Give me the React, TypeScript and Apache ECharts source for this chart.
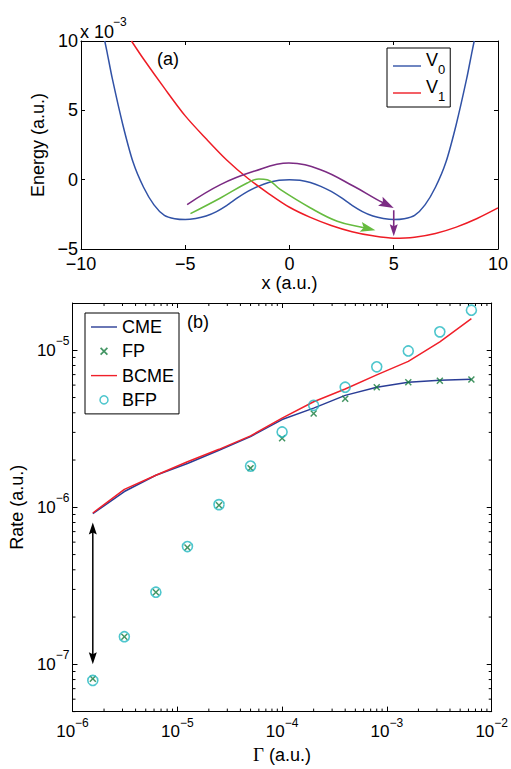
import React, { useEffect, useRef } from 'react';
import * as echarts from 'echarts';

const FONT = '"Liberation Sans", Arial, Helvetica, sans-serif';

// ---------- Panel (a): potentials (energy in units of 1e-3) ----------
const v0X = [-8.86, -8.75, -8.5, -8, -7.5, -7, -6.5, -6, -5.5, -5, -4.5, -4, -3.5, -3, -2.5, -2, -1.5, -1, -0.5, 0,
  0.5, 1, 1.5, 2, 2.5, 3, 3.5, 4, 4.5, 5, 5.5, 6, 6.5, 7, 7.5, 8, 8.5, 8.75, 8.86];
const v0Y = [10.0, 9.2, 7.3, 4.0, 1.25, -0.55, -1.82, -2.58, -2.82, -2.88, -2.8, -2.62, -2.3, -1.85, -1.32, -0.85, -0.48, -0.21, -0.05, 0,
  -0.05, -0.21, -0.48, -0.85, -1.32, -1.85, -2.3, -2.62, -2.8, -2.88, -2.82, -2.58, -1.82, -0.55, 1.25, 4.0, 7.3, 9.2, 10.0];
const v1X = [-7.58, -7, -6, -5, -4, -3, -2, -1, 0, 1, 2, 3, 4, 5, 6, 7, 8, 9, 10];
const v1Y = [10, 8.7, 6.6, 4.6, 2.95, 1.4, 0.1, -1.0, -1.99, -2.72, -3.3, -3.75, -4.05, -4.22, -4.15, -3.88, -3.42, -2.8, -2.04];

const purpleX = [-4.91, -3.31, -1.71, -0.03, 1.49, 3.08, 4.2, 4.5];
const purpleY = [-1.8, -0.36, 0.6, 1.2, 0.72, -0.48, -1.44, -1.66];
const purpleHead = [5.0, -2.04, 4.2, -1.44];
const dropX = [5, 5];
const dropY = [-2.2, -3.7];
const dropHead = [5, -4.08, 5, -3.0];
const greenX = [-4.75, -3.31, -2.03, -1.47, -1.07, -0.43, 1.01, 2.29, 3.41, 3.75];
const greenY = [-2.45, -1.32, -0.24, 0.05, 0.0, -0.72, -2.04, -3.0, -3.41, -3.52];
const greenHead = [4.12, -3.65, 3.41, -3.41];

const aXMin = -10, aXMax = 10, aXStep = 5;
const aYMin = -5, aYMax = 10, aYStep = 5;

// ---------- Panel (b): rates ----------
const gamma = [1.5625e-6, 3.125e-6, 6.25e-6, 1.25e-5, 2.5e-5, 5e-5, 1e-4, 2e-4, 4e-4, 8e-4, 1.6e-3, 3.2e-3, 6.4e-3];
const cme = [9.1e-7, 1.26e-6, 1.6e-6, 1.9e-6, 2.31e-6, 2.82e-6, 3.62e-6, 4.28e-6, 5.16e-6, 5.82e-6, 6.25e-6, 6.45e-6, 6.55e-6];
const fp = [8.1e-8, 1.5e-7, 2.88e-7, 5.55e-7, 1.03e-6, 1.775e-6, 2.75e-6, 3.96e-6, 4.91e-6, 5.82e-6, 6.25e-6, 6.4e-6, 6.52e-6];
const bcme = [9.2e-7, 1.3e-6, 1.6e-6, 1.95e-6, 2.34e-6, 2.85e-6, 3.7e-6, 4.7e-6, 5.67e-6, 6.97e-6, 8.5e-6, 1.13e-5, 1.59e-5];
const bfp = [7.9e-8, 1.5e-7, 2.88e-7, 5.62e-7, 1.04e-6, 1.83e-6, 3.02e-6, 4.46e-6, 5.82e-6, 7.85e-6, 9.9e-6, 1.31e-5, 1.8e-5];

const gapArrowX = [1.5625e-6, 1.5625e-6];
const gapArrowY = [7.3e-7, 1.1e-7];
const gapHeads = [
  [1.5625e-6, 8.0e-7, 1.5625e-6, 5e-7],
  [1.5625e-6, 1.0e-7, 1.5625e-6, 2e-7],
];

const bXMin = 1e-6, bXMax = 1e-2;
const bYMin = 5e-8, bYMax = 2e-5;

const minorMantissas = [2, 3, 4, 5, 6, 7, 8, 9];
const xDecades = [1e-6, 1e-5, 1e-4, 1e-3];
const yDecades = [1e-8, 1e-7, 1e-6, 1e-5];

const COL = {
  v0: '#3152a6',
  v1: '#ee1c25',
  purple: '#7b2b83',
  green: '#66bb3f',
  cme: '#2a3d96',
  bcme: '#f0202a',
  fp: '#147a3c',
  bfp: '#22b8c0',
};

const zip = (xs: number[], ys: number[]) => xs.map((x, i) => [x, ys[i]]);

const minus = (s: string) => s.replace('-', '\u2212');

const logLabel = (v: number) => {
  const l = Math.log10(v);
  const e = Math.round(l);
  if (Math.abs(l - e) > 1e-6) return '';
  return '{b|10}{s|' + minus(String(e)) + '}';
};

const X_ICON = 'path://M0,1.5L1.5,0L5,3.5L8.5,0L10,1.5L6.5,5L10,8.5L8.5,10L5,6.5L1.5,10L0,8.5L3.5,5Z';
const LINE_ICON_A = 'path://M0,0M0,4.3L28,4.3L28,5.7L0,5.7ZM28,10';
const LINE_ICON_B = 'path://M0,0M0,3.3L26,3.3L26,4.7L0,4.7ZM26,8';

function arrowHead(color: string, L: number, W: number, notch: number) {
  return (params: any, api: any) => {
    const tip = api.coord([api.value(0), api.value(1)]);
    const from = api.coord([api.value(2), api.value(3)]);
    const dx = tip[0] - from[0];
    const dy = tip[1] - from[1];
    const d = Math.hypot(dx, dy) || 1;
    const ux = dx / d, uy = dy / d;
    const nx = -uy, ny = ux;
    const bx = tip[0] - ux * L, by = tip[1] - uy * L;
    const mx = tip[0] - ux * (L - notch), my = tip[1] - uy * (L - notch);
    return {
      type: 'polygon',
      shape: { points: [[tip[0], tip[1]], [bx + nx * W, by + ny * W], [mx, my], [bx - nx * W, by - ny * W]] },
      style: { fill: color },
    };
  };
}

const tickStyle = { stroke: '#000', lineWidth: 1 };

function buildOption() {
  const labelBase = { color: '#000', fontFamily: FONT };
  const axisLine = { show: true, onZero: false, lineStyle: { color: '#000', width: 1 } };
  const richLog = {
    b: { fontSize: 17, lineHeight: 30, fontFamily: FONT, color: '#000' },
    s: { fontSize: 12, verticalAlign: 'top', fontFamily: FONT, color: '#000' },
  };
  const nameStyle = { color: '#000', fontFamily: FONT, fontSize: 18 };

  const xMinorData: number[][] = [];
  xDecades.forEach((d) => minorMantissas.forEach((m) => xMinorData.push([m * d, bYMin])));
  const yMinorData: number[][] = [];
  yDecades.forEach((d) =>
    minorMantissas.forEach((m) => {
      const v = m * d;
      if (v > bYMin * 0.999 && v < bYMax * 0.999) yMinorData.push([bXMin, v]);
    })
  );

  return {
    animation: false,
    backgroundColor: '#fff',
    textStyle: { fontFamily: FONT },
    grid: [
      { left: 81, top: 41, width: 417, height: 208 },
      { left: 72, top: 303, width: 420, height: 420 },
    ],
    xAxis: [
      {
        gridIndex: 0, type: 'value', min: aXMin, max: aXMax, interval: aXStep, position: 'bottom',
        axisLine, axisTick: { inside: true, length: 4, lineStyle: { color: '#000' } }, splitLine: { show: false },
        axisLabel: { ...labelBase, fontSize: 18, margin: 6, formatter: (v: number) => minus(String(v)) },
        name: 'x (a.u.)', nameLocation: 'middle', nameGap: 24, nameTextStyle: nameStyle,
      },
      {
        gridIndex: 0, type: 'value', min: aXMin, max: aXMax, interval: aXStep, position: 'top',
        axisLine, axisTick: { inside: true, length: 4, lineStyle: { color: '#000' } }, splitLine: { show: false },
        axisLabel: { show: false },
      },
      {
        gridIndex: 1, type: 'log', logBase: 10, min: bXMin, max: bXMax, position: 'bottom',
        axisLine, axisTick: { inside: true, length: 5, lineStyle: { color: '#000' } }, splitLine: { show: false },
        axisLabel: { ...labelBase, margin: 5, formatter: logLabel, rich: richLog },
        name: '{g|\u0393} (a.u.)', nameLocation: 'middle', nameGap: 30,
        nameTextStyle: { ...nameStyle, rich: { g: { fontFamily: '"Liberation Serif", "Times New Roman", serif', fontSize: 19, color: '#000' } } },
      },
      {
        gridIndex: 1, type: 'log', logBase: 10, min: bXMin, max: bXMax, position: 'top',
        axisLine, axisTick: { inside: true, length: 5, lineStyle: { color: '#000' } }, splitLine: { show: false },
        axisLabel: { show: false },
      },
    ],
    yAxis: [
      {
        gridIndex: 0, type: 'value', min: aYMin, max: aYMax, interval: aYStep, position: 'left',
        axisLine, axisTick: { inside: true, length: 4, lineStyle: { color: '#000' } }, splitLine: { show: false },
        axisLabel: { ...labelBase, fontSize: 18, margin: 3, formatter: (v: number) => minus(String(v)) },
        name: 'Energy (a.u.)', nameLocation: 'middle', nameGap: 27, nameTextStyle: nameStyle,
      },
      {
        gridIndex: 0, type: 'value', min: aYMin, max: aYMax, interval: aYStep, position: 'right',
        axisLine, axisTick: { inside: true, length: 4, lineStyle: { color: '#000' } }, splitLine: { show: false },
        axisLabel: { show: false },
      },
      {
        gridIndex: 1, type: 'log', logBase: 10, min: bYMin, max: bYMax, position: 'left',
        axisLine, axisTick: { inside: true, length: 5, lineStyle: { color: '#000' } }, splitLine: { show: false },
        axisLabel: { ...labelBase, margin: 3, formatter: logLabel, rich: richLog },
        name: 'Rate (a.u.)', nameLocation: 'middle', nameGap: 42, nameTextStyle: nameStyle,
      },
      {
        gridIndex: 1, type: 'log', logBase: 10, min: bYMin, max: bYMax, position: 'right',
        axisLine, axisTick: { inside: true, length: 5, lineStyle: { color: '#000' } }, splitLine: { show: false },
        axisLabel: { show: false },
      },
    ],
    legend: [
      {
        orient: 'vertical', left: 387, top: 48, padding: [3, 5, 4, 6],
        itemWidth: 28, itemHeight: 10, itemGap: 2,
        borderColor: '#000', borderWidth: 1, backgroundColor: '#fff', selectedMode: false,
        data: [
          { name: 'V0', icon: LINE_ICON_A, itemStyle: { borderWidth: 0 } },
          { name: 'V1', icon: LINE_ICON_A, itemStyle: { borderWidth: 0 } },
        ],
        formatter: (n: string) => '{v|V}{s|' + n.slice(1) + '}',
        textStyle: {
          color: '#000', fontFamily: FONT, fontSize: 18,
          rich: {
            v: { fontSize: 18, lineHeight: 30, verticalAlign: 'top', fontFamily: FONT, color: '#000' },
            s: { fontSize: 13, padding: [7, 0, 0, 0], fontFamily: FONT, color: '#000' },
          },
        },
      },
      {
        orient: 'vertical', left: 85, top: 313, padding: [4, 5, 4, 6],
        itemWidth: 26, itemHeight: 8, itemGap: 4.3,
        borderColor: '#000', borderWidth: 1, backgroundColor: '#fff', selectedMode: false,
        data: [
          { name: 'CME', icon: LINE_ICON_B, itemStyle: { borderWidth: 0 } },
          { name: 'FP', icon: X_ICON, itemStyle: { borderWidth: 0 } },
          { name: 'BCME', icon: LINE_ICON_B, itemStyle: { borderWidth: 0 } },
          { name: 'BFP', icon: 'circle', itemStyle: { borderWidth: 1.5 } },
        ],
        textStyle: { color: '#000', fontFamily: FONT, fontSize: 18, lineHeight: 20 },
      },
    ],
    graphic: [
      { type: 'text', left: 80, top: 23, style: { text: 'x 10', font: '18px ' + FONT, fill: '#000' } },
      { type: 'text', left: 113, top: 16, style: { text: '\u22123', font: '12px ' + FONT, fill: '#000' } },
      { type: 'text', left: 157, top: 50, style: { text: '(a)', font: '18px ' + FONT, fill: '#000' } },
      { type: 'text', left: 187, top: 313, style: { text: '(b)', font: '18px ' + FONT, fill: '#000' } },
    ],
    series: [
      // panel (a)
      {
        name: 'V0', type: 'line', xAxisIndex: 0, yAxisIndex: 0, data: zip(v0X, v0Y), smooth: 0.25,
        showSymbol: false, symbol: 'none', lineStyle: { color: COL.v0, width: 1.5 }, itemStyle: { color: COL.v0 }, z: 3,
      },
      {
        name: 'V1', type: 'line', xAxisIndex: 0, yAxisIndex: 0, data: zip(v1X, v1Y), smooth: 0.3,
        showSymbol: false, symbol: 'none', lineStyle: { color: COL.v1, width: 1.5 }, itemStyle: { color: COL.v1 }, z: 3,
      },
      {
        name: 'purple path', type: 'line', xAxisIndex: 0, yAxisIndex: 0, data: zip(purpleX, purpleY), smooth: 0.4,
        symbol: 'none', lineStyle: { color: COL.purple, width: 1.6 }, z: 4,
      },
      {
        name: 'purple drop', type: 'line', xAxisIndex: 0, yAxisIndex: 0, data: zip(dropX, dropY),
        symbol: 'none', lineStyle: { color: COL.purple, width: 1.6 }, z: 4,
      },
      {
        name: 'green path', type: 'line', xAxisIndex: 0, yAxisIndex: 0, data: zip(greenX, greenY), smooth: 0.4,
        symbol: 'none', lineStyle: { color: COL.green, width: 1.6 }, z: 4,
      },
      {
        name: 'purple heads', type: 'custom', xAxisIndex: 0, yAxisIndex: 0, silent: true, z: 5,
        data: [purpleHead], renderItem: arrowHead(COL.purple, 15, 5, 3),
      },
      {
        name: 'drop head', type: 'custom', xAxisIndex: 0, yAxisIndex: 0, silent: true, z: 5,
        data: [dropHead], renderItem: arrowHead(COL.purple, 12, 4, 2),
      },
      {
        name: 'green head', type: 'custom', xAxisIndex: 0, yAxisIndex: 0, silent: true, z: 5,
        data: [greenHead], renderItem: arrowHead(COL.green, 15, 5, 3),
      },
      // panel (b)
      {
        name: 'CME', type: 'line', xAxisIndex: 2, yAxisIndex: 2, data: zip(gamma, cme),
        symbol: 'none', lineStyle: { color: COL.cme, width: 1.5 }, itemStyle: { color: COL.cme }, z: 3,
      },
      {
        name: 'FP', type: 'scatter', xAxisIndex: 2, yAxisIndex: 2, data: zip(gamma, fp),
        symbol: X_ICON, symbolSize: 7, itemStyle: { color: COL.fp }, z: 4,
      },
      {
        name: 'BCME', type: 'line', xAxisIndex: 2, yAxisIndex: 2, data: zip(gamma, bcme),
        symbol: 'none', lineStyle: { color: COL.bcme, width: 1.5 }, itemStyle: { color: COL.bcme }, z: 3,
      },
      {
        name: 'BFP', type: 'scatter', xAxisIndex: 2, yAxisIndex: 2, data: zip(gamma, bfp),
        symbol: 'circle', symbolSize: 10,
        itemStyle: { color: 'rgba(0,0,0,0)', borderColor: COL.bfp, borderWidth: 1.6 }, z: 4,
      },
      {
        name: 'gap arrow', type: 'line', xAxisIndex: 2, yAxisIndex: 2, data: zip(gapArrowX, gapArrowY),
        symbol: 'none', lineStyle: { color: '#000', width: 1.5 }, z: 4,
      },
      {
        name: 'gap heads', type: 'custom', xAxisIndex: 2, yAxisIndex: 2, silent: true, z: 5,
        data: gapHeads, renderItem: arrowHead('#000', 12, 4, 2),
      },
      {
        name: 'x minor', type: 'custom', xAxisIndex: 2, yAxisIndex: 2, silent: true, z: 2,
        data: xMinorData,
        renderItem: (params: any, api: any) => {
          const v = api.value(0);
          const pb = api.coord([v, bYMin]);
          const pt = api.coord([v, bYMax]);
          return {
            type: 'group',
            children: [
              { type: 'line', shape: { x1: pb[0], y1: pb[1], x2: pb[0], y2: pb[1] - 3 }, style: tickStyle },
              { type: 'line', shape: { x1: pt[0], y1: pt[1], x2: pt[0], y2: pt[1] + 3 }, style: tickStyle },
            ],
          };
        },
      },
      {
        name: 'y minor', type: 'custom', xAxisIndex: 2, yAxisIndex: 2, silent: true, z: 2,
        data: yMinorData,
        renderItem: (params: any, api: any) => {
          const v = api.value(1);
          const pl = api.coord([bXMin, v]);
          const pr = api.coord([bXMax, v]);
          return {
            type: 'group',
            children: [
              { type: 'line', shape: { x1: pl[0], y1: pl[1], x2: pl[0] + 3, y2: pl[1] }, style: tickStyle },
              { type: 'line', shape: { x1: pr[0], y1: pr[1], x2: pr[0] - 3, y2: pr[1] }, style: tickStyle },
            ],
          };
        },
      },
    ],
  };
}

export default function App() {
  const ref = useRef<HTMLDivElement>(null);
  useEffect(() => {
    if (!ref.current) return;
    const chart = echarts.init(ref.current, undefined, { renderer: 'svg' });
    chart.setOption(buildOption() as any);
    return () => chart.dispose();
  }, []);
  return <div ref={ref} style={{ position: 'absolute', left: 0, top: 0, width: 511, height: 769 }} />;
}
